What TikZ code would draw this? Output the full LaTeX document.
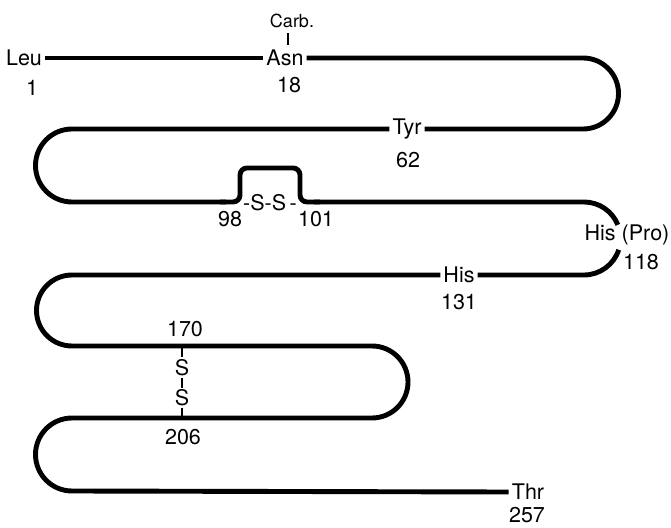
\documentclass[tikz,border=0pt]{standalone}
\usepackage{fontspec}
\setmainfont{TeX Gyre Heros}
\begin{document}
\begin{tikzpicture}[x=1pt,y=1pt,
  chain/.style={line width=4.9pt},
  tick/.style={line width=1.3pt},
  res/.style={inner xsep=3pt,inner ysep=1pt,font=\fontsize{21.5}{24}\selectfont},
  num/.style={inner sep=1pt,font=\fontsize{21.5}{24}\selectfont},
  small/.style={inner sep=1pt,font=\fontsize{18}{20}\selectfont}]
\useasboundingbox (0,0) rectangle (671,527);
% residue labels
\node[res] (leu) at (24,469) {Leu};
\node[num] (n1) at (32,439) {1};
\node[res] (asn) at (285,469) {Asn};
\node[small] (carb) at (292,506) {Carb.};
\node[num] (n18) at (289,442) {18};
\node[res] (tyr) at (407,398) {Tyr};
\node[num] (n62) at (408,367) {62};
\node[num] (n98) at (230,308) {98};
\node[num] (n101) at (316,308) {101};
\node[res,inner xsep=0pt] (ss1) at (270,324) {-S-S\,-};
\node[res,inner xsep=0pt] (hispro) at (627,292) {His (Pro)};
\node[num] (n118) at (641,265) {118};
\node[res] (his) at (459,252) {His};
\node[num] (n131) at (459,225) {131};
\node[num] (n170) at (185,198) {170};
\node[res,inner sep=0pt] (s1) at (182,159) {S};
\node[res,inner sep=0pt] (s2) at (182,129) {S};
\node[num] (n206) at (183,90) {206};
\node[res] (thr) at (528,35) {Thr};
\node[num] (n257) at (527,12) {257};
% chain
\draw[chain] (leu.east) -- (asn.west);
\draw[chain] (asn.east) -- (583,469) arc[start angle=90,end angle=-90,radius=35.5] -- (tyr.east);
\draw[chain] (tyr.west) -- (72,398) arc[start angle=90,end angle=270,radius=36.5]
  -- (226,325);
\draw[chain,rounded corners=7pt] (220,325) -- (240,325) -- (240,359) -- (300,359) -- (300,325) -- (320,325);
\draw[chain] (314,325) -- (584,325) arc[start angle=90,end angle=22,radius=36.5] coordinate (hpa);
\draw[chain] (his.east) -- (584,252) arc[start angle=-90,end angle=-18,radius=36.5] coordinate (hpb);
\draw[chain] (his.west) -- (72,252) arc[start angle=90,end angle=270,radius=35.5]
  -- (372,181) arc[start angle=90,end angle=-90,radius=36] -- (72,109)
  arc[start angle=90,end angle=270,radius=36.5] -- (thr.west);
% cross-links
\draw[tick] (288,494) -- (288,482);
\draw[tick] (182,179) -- (182,170);
\draw[tick] (182,149) -- (182,139);
\draw[tick] (182,119) -- (182,110);
\end{tikzpicture}
\end{document}
